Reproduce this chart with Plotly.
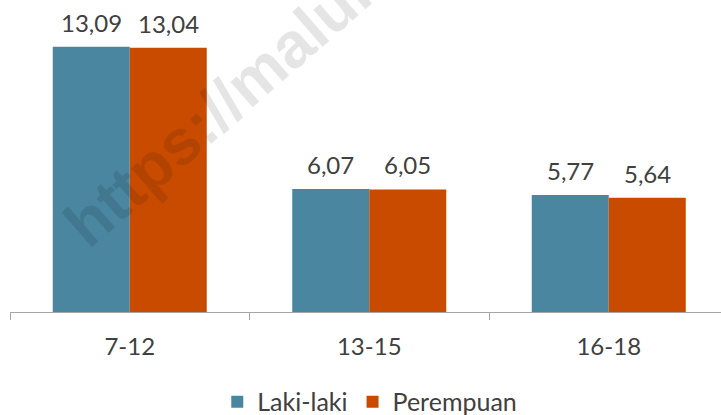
import plotly.graph_objects as go

# Age groups and average values by sex
categories = ["7-12", "13-15", "16-18"]
laki_laki = [13.09, 6.07, 5.77]
perempuan = [13.04, 6.05, 5.64]
series_names = ["Laki-laki", "Perempuan"]

BLUE = "#4A86A0"
ORANGE = "#C84B00"
TEXT = "#404040"
AXIS = "#A6A6A6"
FONT = "Lato"

BARGAP = 0.357

fig = go.Figure()
for name, values, color in zip(series_names, [laki_laki, perempuan], [BLUE, ORANGE]):
    fig.add_trace(go.Bar(
        x=categories, y=values, name=name,
        marker=dict(color=color, line=dict(width=0)),
        hoverinfo="skip",
    ))

# value labels above each bar (comma as decimal separator)
bar_w = (1 - BARGAP) / 2
annotations = []
for s, values in enumerate([laki_laki, perempuan]):
    offset = (s - 0.5) * bar_w
    for i, v in enumerate(values):
        annotations.append(dict(
            x=i + offset, y=v, xref="x", yref="y",
            text=f"{v:.2f}".replace(".", ","),
            showarrow=False, yanchor="bottom", xanchor="center", yshift=8,
            font=dict(family=FONT, size=24, color=TEXT),
        ))

# diagonal source watermark
annotations.append(dict(
    x=0.4824, y=1.057, xref="paper", yref="paper",
    text="<b>https://maluku.bps.go.id</b>",
    showarrow=False, textangle=-41, xanchor="center", yanchor="middle",
    font=dict(family="Liberation Sans", size=64, color="rgba(0,0,0,0.1)"),
))

fig.update_layout(
    width=721, height=415,
    margin=dict(l=10, r=0, t=8, b=103, autoexpand=False),
    paper_bgcolor="white", plot_bgcolor="white",
    barmode="group", bargap=BARGAP, bargroupgap=0,
    showlegend=True,
    legend=dict(
        orientation="h", x=0.506, y=-0.296, xanchor="center", yanchor="middle",
        font=dict(family=FONT, size=25, color=TEXT),
        traceorder="normal",
    ),
    annotations=annotations,
    xaxis=dict(
        type="category", range=[-0.5, 2.4687],
        showline=True, linecolor=AXIS, linewidth=1,
        ticks="outside", ticklen=7, tickcolor=AXIS, tickwidth=1,
        tickson="boundaries", showgrid=False, zeroline=False,
        tickfont=dict(family=FONT, size=24, color=TEXT),
        ticklabelstandoff=13,
    ),
    yaxis=dict(
        range=[0, 15], visible=False, showgrid=False, zeroline=False,
    ),
)

fig.write_html("out.html")
